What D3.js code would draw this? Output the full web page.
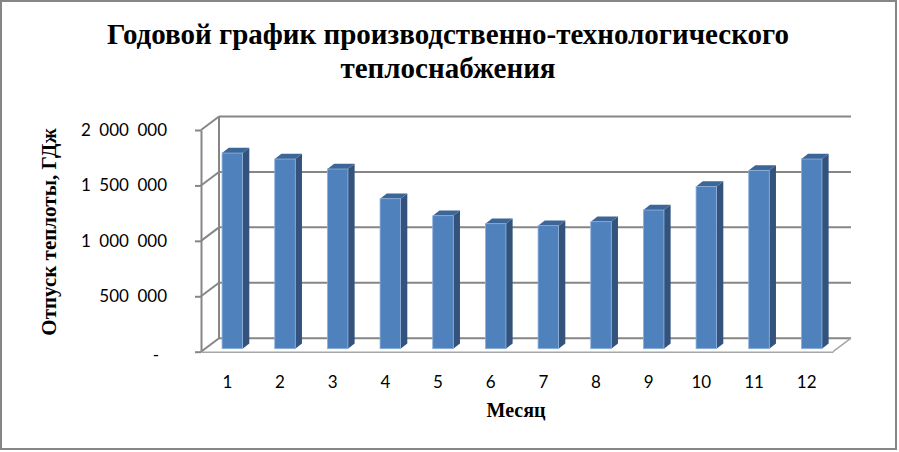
<!DOCTYPE html>
<html>
<head>
<meta charset="utf-8">
<script src="https://cdn.jsdelivr.net/npm/d3@7"></script>
<style>
  html, body { margin: 0; padding: 0; background: #fff; }
  svg { display: block; }
</style>
</head>
<body>
<svg id="chart" width="899" height="452"></svg>
<script>
// ---- data ----
const titleLines = ["Годовой график производственно-технологического", "теплоснабжения"];
const yTitle = "Отпуск теплоты, ГДж";
const xTitle = "Месяц";
const months = ["1","2","3","4","5","6","7","8","9","10","11","12"];
const values = [1765000, 1711000, 1621000, 1353000, 1200000, 1128000, 1110000, 1146000, 1251000, 1464000, 1609000, 1711000];
const yTicks = [0, 500000, 1000000, 1500000, 2000000];

// ---- layout ----
const W = 899, H = 452;
const plotLeft = 201, plotRight = 833, plotBottom = 351.7, plotTop = 130;
const depthX = 18, depthY = -13.5;          // back wall offset
const barOffX = 5, barOffY = -3;            // bar front face offset from floor front edge
const barDX = 6.7, barDY = -5.2;            // bar depth
const gridColor = "#868686";

const svg = d3.select("#chart");

svg.append("rect")
  .attr("x", 1).attr("y", 1).attr("width", W - 4).attr("height", H - 4)
  .attr("fill", "#fff").attr("stroke", gridColor).attr("stroke-width", 2);

const x = d3.scaleBand().domain(months).range([plotLeft, plotRight]).paddingInner(0).paddingOuter(0);
const y = d3.scaleLinear().domain([0, 2000000]).range([plotBottom, plotTop]);

const loc = d3.formatLocale({decimal: ",", thousands: "\u2002", grouping: [3], currency: ["", ""]});
const fmt = loc.format(",.0f");

// back wall gridlines
const g3d = svg.append("g");
g3d.selectAll("line.grid").data(yTicks).join("line")
  .attr("class", "grid")
  .attr("x1", plotLeft + depthX).attr("x2", plotRight + depthX)
  .attr("y1", d => y(d) + depthY).attr("y2", d => y(d) + depthY)
  .attr("stroke", gridColor).attr("stroke-width", 2);

// left side wall diagonals
g3d.selectAll("line.diag").data(yTicks).join("line")
  .attr("class", "diag")
  .attr("x1", plotLeft).attr("x2", plotLeft + depthX)
  .attr("y1", d => y(d)).attr("y2", d => y(d) + depthY)
  .attr("stroke", gridColor).attr("stroke-width", 2);

// left wall back vertical
g3d.append("line")
  .attr("x1", plotLeft + depthX).attr("x2", plotLeft + depthX)
  .attr("y1", y(2000000) + depthY).attr("y2", y(0) + depthY)
  .attr("stroke", gridColor).attr("stroke-width", 2);

// floor right edge
g3d.append("line")
  .attr("x1", plotRight).attr("y1", y(0))
  .attr("x2", plotRight + depthX).attr("y2", y(0) + depthY)
  .attr("stroke", "#a6a6a6").attr("stroke-width", 1.5);

// bars
const bw = x.bandwidth() * 0.39;
const bars = svg.append("g").selectAll("g").data(months.map((m, i) => ({m, v: values[i]}))).join("g");
bars.each(function(d) {
  const g = d3.select(this);
  const x0 = x(d.m) + x.bandwidth() / 2 - bw / 2 + barOffX;
  const x1 = x0 + bw;
  const yb = y(0) + barOffY;
  const yt = y(d.v) + barOffY;
  g.append("path")
    .attr("d", `M${x1},${yt}L${x1 + barDX},${yt + barDY}L${x1 + barDX},${yb + barDY}L${x1},${yb}Z`)
    .attr("fill", "#33537d");
  g.append("path")
    .attr("d", `M${x0},${yt}L${x0 + barDX},${yt + barDY}L${x1 + barDX},${yt + barDY}L${x1},${yt}Z`)
    .attr("fill", "#3c6598");
  g.append("rect")
    .attr("x", x0).attr("y", yt).attr("width", bw).attr("height", yb - yt)
    .attr("fill", "#4f81bd").attr("stroke", "#8eb1dc").attr("stroke-width", 0.8);
});

// y axis (front)
const yAxis = svg.append("g")
  .attr("transform", `translate(${plotLeft},0)`)
  .call(d3.axisLeft(y).tickValues(yTicks).tickSize(6).tickSizeOuter(0).tickPadding(28)
    .tickFormat(d => d === 0 ? "-" : fmt(d)));
yAxis.select(".domain").attr("stroke", gridColor).attr("stroke-width", 2);
yAxis.selectAll(".tick line").attr("stroke", gridColor).attr("stroke-width", 2);
yAxis.selectAll(".tick text")
  .attr("font-family", "Lato, 'Open Sans', sans-serif").attr("font-size", 17).attr("fill", "#000");
yAxis.selectAll(".tick").filter(d => d === 0).select("text").attr("x", -42).attr("dy", "0.5em");

// x axis (floor front edge)
const xAxis = svg.append("g")
  .attr("transform", `translate(0,${y(0)})`)
  .call(d3.axisBottom(x).tickSize(0).tickSizeOuter(0).tickPadding(24));
xAxis.select(".domain").attr("stroke", "#a6a6a6").attr("stroke-width", 1.5);
xAxis.selectAll(".tick text")
  .attr("font-family", "Lato, 'Open Sans', sans-serif").attr("font-size", 17).attr("fill", "#000");

// titles
const title = svg.append("text")
  .attr("text-anchor", "middle")
  .attr("font-family", "'Liberation Serif', 'Times New Roman', serif")
  .attr("font-weight", "bold").attr("font-size", 29).attr("fill", "#000");
title.selectAll("tspan").data(titleLines).join("tspan")
  .attr("x", 448).attr("y", (d, i) => 44 + i * 33.5)
  .text(d => d);

svg.append("text")
  .attr("x", 516).attr("y", 416.5)
  .attr("text-anchor", "middle")
  .attr("font-family", "'Liberation Serif', 'Times New Roman', serif")
  .attr("font-weight", "bold").attr("font-size", 20).attr("fill", "#000")
  .text(xTitle);

svg.append("text")
  .attr("transform", "translate(56,232) rotate(-90)")
  .attr("text-anchor", "middle")
  .attr("font-family", "'Liberation Serif', 'Times New Roman', serif")
  .attr("font-weight", "bold").attr("font-size", 21).attr("fill", "#000")
  .text(yTitle);
</script>
</body>
</html>
